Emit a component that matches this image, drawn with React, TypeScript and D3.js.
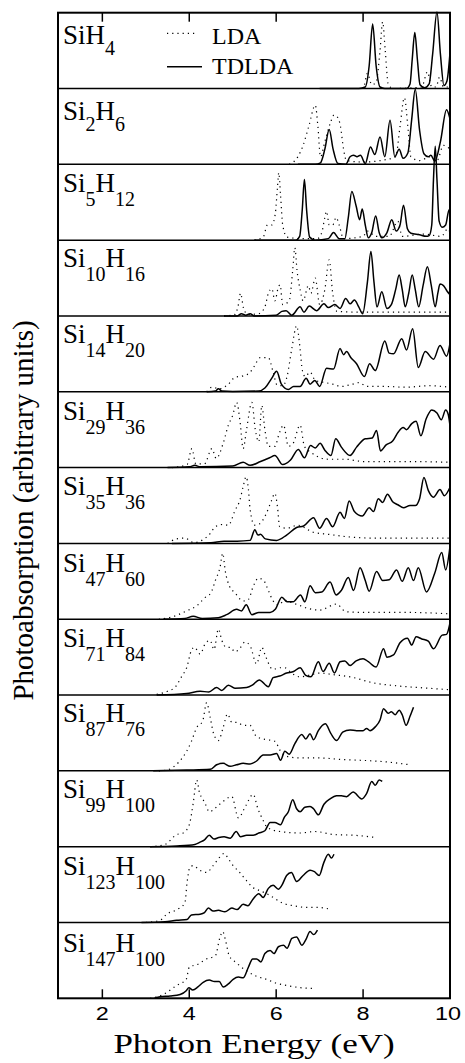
import React from "react";
import * as d3 from "d3";

// cluster names: Si count, H count
const siCounts = [1, 2, 5, 10, 14, 29, 35, 47, 71, 87, 99, 123, 147];
const hCounts = [4, 6, 12, 16, 20, 36, 36, 60, 84, 76, 100, 100, 100];

// spectra: [photon energy (eV), absorption (fraction of panel height)]
const tdSiH4 = [[7.0,0],[7.9,0],[8.05,0.02],[8.14,0.3],[8.22,0.85],[8.3,0.3],[8.39,0.02],[8.5,0],[9.0,0],[9.08,0.06],[9.13,0.38],[9.19,0.74],[9.25,0.38],[9.31,0.05],[9.42,0.01],[9.52,0.06],[9.6,0.45],[9.7,1.01],[9.78,0.45],[9.86,0.04],[9.93,0.1],[10,0.47]];
const ldaSiH4 = [[7.5,0],[8.0,0],[8.1,0.2],[8.2,0.05],[8.3,0.08],[8.39,0.5],[8.45,0.88],[8.51,0.5],[8.58,0.05],[8.7,0],[9.35,0.02],[9.48,0.22],[9.58,0.02],[9.68,0.02],[9.76,0.15],[9.85,0.02],[10,0.02]];

const tdSi2H6 = [[6.5,0],[6.9,0],[7.02,0.02],[7.12,0.2],[7.22,0.46],[7.31,0.2],[7.42,0.01],[7.6,0],[7.7,0.1],[7.78,0.12],[7.86,0.1],[7.94,0.12],[8.05,0.01],[8.17,0.23],[8.27,0.13],[8.39,0.36],[8.5,0.1],[8.62,0.58],[8.73,0.1],[8.83,0.2],[8.92,0.08],[9.03,0.15],[9.12,0.6],[9.2,0.99],[9.3,0.45],[9.4,0.14],[9.5,0.1],[9.56,0.12],[9.65,0.04],[9.78,0.3],[9.92,0.72],[10,0.6]];
const ldaSi2H6 = [[6.3,0],[6.5,0.1],[6.62,0.25],[6.75,0.5],[6.9,0.78],[6.96,0.5],[7.02,0.1],[7.12,0.3],[7.25,0.55],[7.33,0.65],[7.4,0.63],[7.48,0.5],[7.55,0.2],[7.62,0.05],[8.0,0.03],[8.4,0.05],[8.75,0.1],[8.85,0.5],[8.95,0.88],[9.03,0.5],[9.1,0.1],[9.3,0.05],[9.55,0.1],[9.7,0.05],[9.85,0.25],[10,0.2]];

const tdSi5H12 = [[5.5,0],[6.45,0],[6.54,0.05],[6.6,0.4],[6.65,0.8],[6.7,0.4],[6.77,0.04],[6.9,0],[7.2,0.02],[7.32,0.1],[7.45,0.02],[7.58,0.02],[7.66,0.3],[7.74,0.64],[7.84,0.45],[7.92,0.27],[7.98,0.41],[8.05,0.2],[8.12,0.03],[8.2,0.1],[8.29,0.32],[8.37,0.1],[8.43,0.03],[8.55,0.1],[8.66,0.27],[8.76,0.12],[8.85,0.2],[8.93,0.46],[9.02,0.15],[9.1,0.09],[9.3,0.07],[9.45,0.05],[9.52,0.06],[9.58,0.2],[9.62,0.8],[9.66,1.24],[9.7,0.8],[9.75,0.25],[9.82,0.17],[9.9,0.2],[9.98,0.4],[10,0.38]];
const ldaSi5H12 = [[5.5,0],[5.7,0.04],[5.8,0.2],[5.9,0.2],[5.98,0.35],[6.03,0.7],[6.06,0.89],[6.1,0.6],[6.15,0.2],[6.25,0.04],[6.6,0.02],[6.95,0.02],[7.05,0.1],[7.12,0.3],[7.16,0.38],[7.22,0.2],[7.3,0.2],[7.38,0.3],[7.45,0.2],[7.55,0.02],[8.0,0.05],[8.1,0.12],[8.3,0.05],[8.6,0.05],[8.8,0.25],[8.9,0.05],[9.4,0.08],[9.8,0.05],[9.95,0.15],[10,0.1]];

const tdSi10H16 = [[4.8,0],[5.1,0],[5.2,0.03],[5.3,0.01],[5.4,0.03],[5.5,0],[6.0,0.01],[6.13,0.06],[6.23,0.07],[6.36,0.01],[6.55,0.12],[6.64,0.05],[6.76,0.13],[6.93,0.07],[7.1,0.16],[7.2,0.11],[7.35,0.15],[7.47,0.1],[7.6,0.23],[7.7,0.16],[7.8,0.21],[7.9,0.12],[7.99,0.03],[8.1,0.45],[8.18,0.85],[8.25,0.45],[8.32,0.12],[8.43,0.32],[8.55,0.1],[8.65,0.15],[8.75,0.35],[8.83,0.54],[8.9,0.35],[8.97,0.12],[9.05,0.3],[9.13,0.54],[9.2,0.35],[9.28,0.12],[9.38,0.4],[9.48,0.65],[9.57,0.4],[9.66,0.12],[9.72,0.3],[9.77,0.42],[9.85,0.4],[9.93,0.33],[10,0.28]];
const ldaSi10H16 = [[4.8,0],[5.05,0.02],[5.12,0.12],[5.18,0.3],[5.25,0.1],[5.35,0.02],[5.6,0.03],[5.74,0.12],[5.82,0.3],[5.9,0.36],[5.97,0.2],[6.05,0.38],[6.09,0.41],[6.15,0.15],[6.3,0.2],[6.38,0.6],[6.43,0.9],[6.48,0.6],[6.55,0.35],[6.62,0.2],[6.74,0.4],[6.8,0.3],[6.9,0.5],[7.0,0.15],[7.12,0.35],[7.22,0.74],[7.3,0.3],[7.4,0.06],[8.0,0.05],[9.0,0.05],[10,0.05]];

const tdSi14H20 = [[4.4,0],[4.6,0.01],[4.67,0.04],[4.75,0.01],[5.0,0.005],[5.6,0.01],[5.74,0.05],[5.9,0.18],[6.01,0.27],[6.12,0.1],[6.28,0.03],[6.4,0.07],[6.55,0.07],[6.69,0.18],[6.78,0.1],[6.89,0.15],[7.0,0.07],[7.16,0.31],[7.32,0.3],[7.47,0.57],[7.55,0.49],[7.62,0.53],[7.72,0.45],[7.85,0.37],[8.03,0.2],[8.15,0.37],[8.28,0.28],[8.5,0.67],[8.6,0.51],[8.7,0.5],[8.89,0.7],[9.0,0.55],[9.14,0.83],[9.27,0.32],[9.43,0.53],[9.62,0.43],[9.77,0.61],[9.92,0.47],[10,0.64]];
const ldaSi14H20 = [[4.4,0],[4.52,0.06],[4.7,0.04],[4.9,0.1],[5.05,0.19],[5.24,0.21],[5.39,0.25],[5.5,0.34],[5.63,0.45],[5.74,0.45],[5.82,0.45],[5.93,0.26],[6.02,0.09],[6.15,0.08],[6.25,0.2],[6.36,0.57],[6.47,0.87],[6.55,0.57],[6.6,0.29],[6.67,0.2],[6.78,0.26],[6.9,0.15],[7.05,0.13],[7.3,0.1],[7.5,0.07],[7.75,0.1],[7.9,0.12],[8.1,0.07],[8.5,0.07],[9.0,0.06],[9.5,0.08],[10,0.06]];

const tdSi29H36 = [[3.5,0],[4.0,0.01],[4.13,0.03],[4.25,0.01],[5.0,0.02],[5.24,0.07],[5.4,0.03],[5.64,0.08],[5.85,0.13],[5.97,0.16],[6.15,0.04],[6.33,0.1],[6.51,0.24],[6.65,0.13],[6.79,0.29],[6.9,0.26],[7.01,0.32],[7.12,0.23],[7.26,0.16],[7.37,0.38],[7.5,0.27],[7.7,0.16],[7.85,0.27],[8.05,0.38],[8.21,0.39],[8.31,0.49],[8.4,0.22],[8.53,0.3],[8.68,0.35],[8.81,0.47],[8.92,0.53],[9.0,0.5],[9.12,0.58],[9.22,0.61],[9.33,0.42],[9.45,0.64],[9.58,0.76],[9.7,0.72],[9.8,0.63],[9.9,0.76],[9.96,0.7],[10,0.55]];
const ldaSi29H36 = [[3.6,0],[3.95,0.04],[4.06,0.25],[4.15,0.05],[4.35,0.05],[4.52,0.25],[4.62,0.12],[4.78,0.32],[4.9,0.56],[5.0,0.69],[5.09,0.86],[5.17,0.6],[5.24,0.25],[5.32,0.51],[5.44,0.86],[5.52,0.5],[5.6,0.34],[5.67,0.82],[5.74,0.5],[5.82,0.28],[5.97,0.28],[6.07,0.45],[6.17,0.56],[6.28,0.28],[6.39,0.32],[6.55,0.56],[6.65,0.28],[6.8,0.2],[7.2,0.11],[7.6,0.11],[8.0,0.08],[9.0,0.08],[10,0.07]];

const tdSi35H36 = [[3.6,0],[4.5,0.01],[4.8,0.03],[5.1,0.03],[5.4,0.04],[5.51,0.18],[5.58,0.11],[5.64,0.12],[5.75,0.06],[6.01,0.04],[6.24,0.11],[6.47,0.21],[6.63,0.23],[6.86,0.34],[7.0,0.2],[7.16,0.33],[7.3,0.22],[7.47,0.41],[7.57,0.33],[7.68,0.56],[7.8,0.42],[7.98,0.36],[8.14,0.47],[8.24,0.42],[8.35,0.59],[8.45,0.54],[8.56,0.65],[8.68,0.55],[8.8,0.51],[8.93,0.47],[9.08,0.5],[9.2,0.5],[9.3,0.59],[9.4,0.87],[9.5,0.7],[9.62,0.61],[9.77,0.71],[9.87,0.63],[10,0.74]];
const ldaSi35H36 = [[3.5,0],[3.71,0.06],[3.9,0.07],[4.1,0.01],[4.48,0.13],[4.6,0.22],[4.78,0.25],[4.9,0.24],[5.05,0.43],[5.17,0.58],[5.24,0.75],[5.31,0.88],[5.36,0.72],[5.4,0.45],[5.5,0.24],[5.62,0.26],[5.77,0.39],[5.89,0.56],[5.97,0.66],[6.03,0.48],[6.08,0.22],[6.24,0.2],[6.5,0.24],[6.84,0.15],[7.2,0.12],[7.6,0.09],[8.2,0.07],[9.0,0.07],[10,0.07]];

const tdSi47H60 = [[3.4,0],[3.9,0.01],[4.09,0.04],[4.3,0.01],[4.67,0.02],[4.86,0.06],[5.09,0.13],[5.2,0.11],[5.31,0.19],[5.44,0.06],[5.6,0.09],[5.86,0.09],[5.98,0.13],[6.13,0.29],[6.25,0.23],[6.39,0.23],[6.56,0.32],[6.66,0.23],[6.78,0.44],[6.9,0.35],[7.05,0.36],[7.24,0.49],[7.38,0.32],[7.5,0.38],[7.66,0.55],[7.78,0.38],[7.93,0.68],[8.05,0.51],[8.14,0.37],[8.31,0.63],[8.45,0.51],[8.6,0.52],[8.77,0.65],[8.9,0.5],[9.04,0.68],[9.16,0.51],[9.27,0.68],[9.46,0.36],[9.65,0.61],[9.81,0.88],[9.9,0.65],[10,0.96]];
const ldaSi47H60 = [[3.3,0],[3.6,0.03],[3.94,0.11],[4.2,0.19],[4.35,0.28],[4.5,0.35],[4.6,0.51],[4.71,0.69],[4.77,0.87],[4.83,0.63],[4.93,0.43],[5.05,0.35],[5.24,0.24],[5.36,0.26],[5.47,0.43],[5.59,0.54],[5.7,0.52],[5.82,0.38],[5.92,0.25],[6.05,0.19],[6.2,0.25],[6.35,0.22],[6.5,0.19],[6.75,0.14],[7.0,0.12],[7.39,0.2],[7.6,0.1],[8.0,0.09],[9.0,0.09],[10,0.07]];

const tdSi71H84 = [[3.25,0],[3.94,0.02],[4.25,0.05],[4.45,0.04],[4.63,0.1],[4.75,0.06],[4.9,0.13],[5.05,0.09],[5.32,0.1],[5.45,0.13],[5.61,0.2],[5.82,0.11],[5.93,0.23],[6.08,0.25],[6.24,0.29],[6.4,0.31],[6.55,0.36],[6.68,0.26],[6.8,0.24],[6.97,0.44],[7.08,0.31],[7.22,0.42],[7.34,0.29],[7.47,0.44],[7.58,0.45],[7.7,0.39],[7.84,0.45],[8.0,0.48],[8.12,0.44],[8.3,0.37],[8.47,0.61],[8.55,0.5],[8.7,0.53],[8.85,0.69],[9.02,0.75],[9.12,0.66],[9.22,0.77],[9.35,0.74],[9.5,0.71],[9.62,0.61],[9.82,0.79],[9.92,0.8],[10,0.95]];
const ldaSi71H84 = [[3.25,0.01],[3.5,0.05],[3.67,0.1],[3.83,0.25],[3.94,0.36],[4.05,0.59],[4.12,0.63],[4.25,0.54],[4.36,0.67],[4.48,0.72],[4.57,0.6],[4.67,0.87],[4.75,0.72],[4.85,0.63],[4.95,0.63],[5.05,0.57],[5.17,0.62],[5.28,0.7],[5.4,0.65],[5.55,0.41],[5.67,0.63],[5.75,0.52],[5.92,0.34],[6.1,0.36],[6.2,0.36],[6.35,0.29],[6.55,0.24],[7.01,0.29],[7.3,0.27],[7.7,0.24],[8.24,0.16],[8.8,0.12],[9.5,0.09],[10,0.07]];

const tdSi87H76 = [[3.17,0],[3.94,0.01],[4.48,0.02],[4.63,0.08],[4.78,0.1],[4.94,0.06],[5.09,0.08],[5.24,0.1],[5.4,0.09],[5.55,0.13],[5.7,0.21],[5.86,0.21],[6.01,0.23],[6.1,0.14],[6.2,0.26],[6.3,0.22],[6.43,0.36],[6.59,0.48],[6.68,0.42],[6.78,0.49],[6.86,0.41],[6.97,0.53],[7.13,0.62],[7.26,0.49],[7.39,0.4],[7.53,0.51],[7.7,0.54],[7.85,0.53],[8.0,0.53],[8.08,0.56],[8.16,0.53],[8.28,0.58],[8.39,0.67],[8.47,0.82],[8.58,0.76],[8.65,0.78],[8.74,0.74],[8.83,0.8],[8.9,0.74],[8.99,0.6],[9.08,0.72],[9.16,0.84]];
const ldaSi87H76 = [[3.3,0],[3.48,0.01],[3.75,0.11],[3.94,0.26],[4.05,0.39],[4.17,0.57],[4.31,0.66],[4.4,0.9],[4.48,0.71],[4.56,0.49],[4.67,0.4],[4.78,0.57],[4.88,0.75],[4.98,0.64],[5.09,0.64],[5.25,0.6],[5.4,0.6],[5.52,0.47],[5.63,0.43],[5.8,0.41],[5.97,0.39],[6.1,0.26],[6.25,0.19],[6.55,0.17],[7.0,0.17],[7.5,0.15],[7.93,0.14],[8.5,0.12],[9.08,0.08]];

const tdSi99H100 = [[3.1,0],[3.71,0.01],[4.13,0.03],[4.25,0.06],[4.35,0.09],[4.46,0.15],[4.57,0.1],[4.68,0.12],[4.8,0.13],[4.94,0.11],[5.08,0.2],[5.18,0.13],[5.32,0.15],[5.47,0.15],[5.6,0.18],[5.74,0.21],[5.86,0.32],[5.97,0.32],[6.1,0.29],[6.19,0.39],[6.28,0.46],[6.38,0.62],[6.47,0.5],[6.55,0.46],[6.66,0.52],[6.78,0.53],[6.86,0.5],[6.97,0.42],[7.1,0.56],[7.24,0.63],[7.39,0.67],[7.5,0.67],[7.62,0.66],[7.77,0.72],[7.97,0.63],[8.08,0.7],[8.2,0.86],[8.28,0.81],[8.37,0.88],[8.44,0.86]];
const ldaSi99H100 = [[3.1,0],[3.44,0.03],[3.71,0.16],[3.86,0.18],[4.0,0.29],[4.09,0.57],[4.17,0.88],[4.24,0.7],[4.3,0.64],[4.38,0.55],[4.46,0.46],[4.7,0.56],[4.98,0.66],[5.13,0.38],[5.3,0.54],[5.47,0.69],[5.58,0.5],[5.68,0.37],[5.8,0.25],[6.09,0.2],[6.55,0.18],[6.9,0.2],[7.32,0.16],[7.8,0.15],[8.31,0.12]];

const tdSi123H100 = [[2.9,0],[3.44,0.01],[3.71,0.03],[3.95,0.04],[4.05,0.1],[4.25,0.11],[4.35,0.13],[4.44,0.19],[4.55,0.15],[4.67,0.16],[4.82,0.14],[4.98,0.19],[5.1,0.17],[5.24,0.24],[5.35,0.22],[5.47,0.31],[5.6,0.38],[5.7,0.33],[5.82,0.45],[5.93,0.49],[6.05,0.44],[6.13,0.49],[6.24,0.62],[6.35,0.66],[6.47,0.54],[6.62,0.62],[6.78,0.69],[6.88,0.67],[6.99,0.62],[7.09,0.78],[7.2,0.9],[7.27,0.85],[7.33,0.9]];
const ldaSi123H100 = [[3.0,0],[3.33,0.03],[3.48,0.11],[3.75,0.18],[3.9,0.26],[3.95,0.53],[4.01,0.72],[4.09,0.75],[4.24,0.69],[4.4,0.66],[4.55,0.75],[4.7,0.86],[4.8,0.91],[4.9,0.84],[5.01,0.75],[5.16,0.66],[5.32,0.55],[5.47,0.46],[5.62,0.42],[5.78,0.38],[5.93,0.33],[6.13,0.26],[6.4,0.22],[6.7,0.2],[6.93,0.2],[7.28,0.17]];

const tdSi147H100 = [[3.2,0],[3.33,0.02],[3.56,0.03],[3.79,0.05],[3.93,0.1],[3.99,0.14],[4.08,0.11],[4.2,0.15],[4.32,0.21],[4.46,0.24],[4.58,0.22],[4.69,0.22],[4.78,0.15],[4.9,0.19],[5.01,0.25],[5.13,0.28],[5.24,0.27],[5.36,0.41],[5.46,0.52],[5.55,0.52],[5.65,0.48],[5.74,0.59],[5.86,0.63],[5.95,0.59],[6.05,0.68],[6.17,0.7],[6.25,0.66],[6.36,0.79],[6.47,0.81],[6.59,0.7],[6.68,0.77],[6.78,0.88],[6.86,0.84],[6.95,0.9]];
const ldaSi147H100 = [[3.1,0],[3.4,0.05],[3.71,0.17],[3.93,0.25],[4.0,0.41],[4.2,0.45],[4.4,0.52],[4.6,0.56],[4.7,0.79],[4.77,0.88],[4.84,0.75],[4.92,0.56],[5.08,0.47],[5.32,0.36],[5.55,0.29],[5.78,0.25],[6.0,0.2],[6.24,0.17],[6.55,0.14],[6.86,0.13]];

const tdldaSeries = [tdSiH4, tdSi2H6, tdSi5H12, tdSi10H16, tdSi14H20, tdSi29H36, tdSi35H36, tdSi47H60, tdSi71H84, tdSi87H76, tdSi99H100, tdSi123H100, tdSi147H100];
const ldaSeries = [ldaSiH4, ldaSi2H6, ldaSi5H12, ldaSi10H16, ldaSi14H20, ldaSi29H36, ldaSi35H36, ldaSi47H60, ldaSi71H84, ldaSi87H76, ldaSi99H100, ldaSi123H100, ldaSi147H100];

const xTicks = [2, 4, 6, 8, 10];

// layout
const W = 465;
const H = 1063;
const left = 58;
const right = 450;
const top = 12.7;
const bottom = 998.3;
const panelH = (bottom - top) / siCounts.length;
const labelBase = [31.5, 31.5, 27.4, 26.6, 27.4, 28.3, 27.5, 28.4, 27.6, 26.8, 27.6, 28.5, 29.4];

const serif = "Liberation Serif, Times New Roman, Times, serif";
const sans = "Liberation Sans, Arial, Helvetica, sans-serif";

export default function App() {
  const x = d3.scaleLinear().domain([1, 10]).range([58.9, 450]);

  return (
    <svg
      width={W}
      height={H}
      style={{ position: "absolute", left: 0, top: 0, background: "#fff" }}
    >
      {siCounts.map((si, i) => {
        const pTop = top + i * panelH;
        const y = d3.scaleLinear().domain([0, 1]).range([pTop + panelH, pTop]);
        const line = d3
          .line<number[]>()
          .x((d) => x(d[0]))
          .y((d) => y(d[1]))
          .curve(d3.curveMonotoneX);
        const base = pTop + labelBase[i];
        const subDy = i < 2 ? 11 : 14;
        return (
          <g key={si}>
            <path
              d={line(ldaSeries[i]) || ""}
              fill="none"
              stroke="#000"
              strokeWidth={1.2}
              strokeDasharray="1.2 4"
            />
            <path
              d={line(tdldaSeries[i]) || ""}
              fill="none"
              stroke="#000"
              strokeWidth={1.5}
              strokeLinejoin="round"
            />
            <text x={63} y={base} style={{ fontFamily: serif, fontSize: 27 }} fill="#000">
              Si
              {si > 1 && (
                <tspan style={{ fontSize: 20 }} dy={subDy}>
                  {si}
                </tspan>
              )}
              <tspan dy={si > 1 ? -subDy : 0}>H</tspan>
              <tspan style={{ fontSize: 20 }} dy={subDy}>
                {hCounts[i]}
              </tspan>
            </text>
            {i > 0 && (
              <line x1={left} x2={right} y1={pTop} y2={pTop} stroke="#000" strokeWidth={1.5} />
            )}
          </g>
        );
      })}

      {/* frame */}
      <rect
        x={left}
        y={top}
        width={right - left}
        height={bottom - top}
        fill="none"
        stroke="#000"
        strokeWidth={2}
      />

      {/* ticks, top and bottom, pointing in */}
      {xTicks
        .filter((t) => t < 10)
        .map((t) => (
          <g key={t}>
            <line x1={x(t)} x2={x(t)} y1={top} y2={top + 9} stroke="#000" strokeWidth={1.5} />
            <line x1={x(t)} x2={x(t)} y1={bottom} y2={bottom - 9} stroke="#000" strokeWidth={1.5} />
          </g>
        ))}

      {xTicks.map((t) => (
        <text
          key={t}
          transform={`translate(${t === 10 ? x(t) - 2 : x(t)},1020) scale(1.26,1)`}
          textAnchor="middle"
          style={{ fontFamily: sans, fontSize: 18.6 }}
          fill="#000"
        >
          {t}
        </text>
      ))}

      <text
        transform="translate(254,1053) scale(1.25,1)"
        textAnchor="middle"
        style={{ fontFamily: serif, fontSize: 28 }}
        fill="#000"
      >
        Photon Energy (eV)
      </text>

      <text
        transform="translate(33,510.5) rotate(-90)"
        textAnchor="middle"
        style={{ fontFamily: serif, fontSize: 29 }}
        fill="#000"
      >
        Photoabsorption (arbitrary units)
      </text>

      {/* legend */}
      <line x1={167} x2={197} y1={33.3} y2={33.3} stroke="#000" strokeWidth={1.2} strokeDasharray="1.2 4" />
      <text x={212} y={44.3} style={{ fontFamily: serif, fontSize: 24 }} fill="#000">
        LDA
      </text>
      <line x1={167} x2={202} y1={66.7} y2={66.7} stroke="#000" strokeWidth={1.5} />
      <text x={212} y={74} style={{ fontFamily: serif, fontSize: 24 }} fill="#000">
        TDLDA
      </text>
    </svg>
  );
}
